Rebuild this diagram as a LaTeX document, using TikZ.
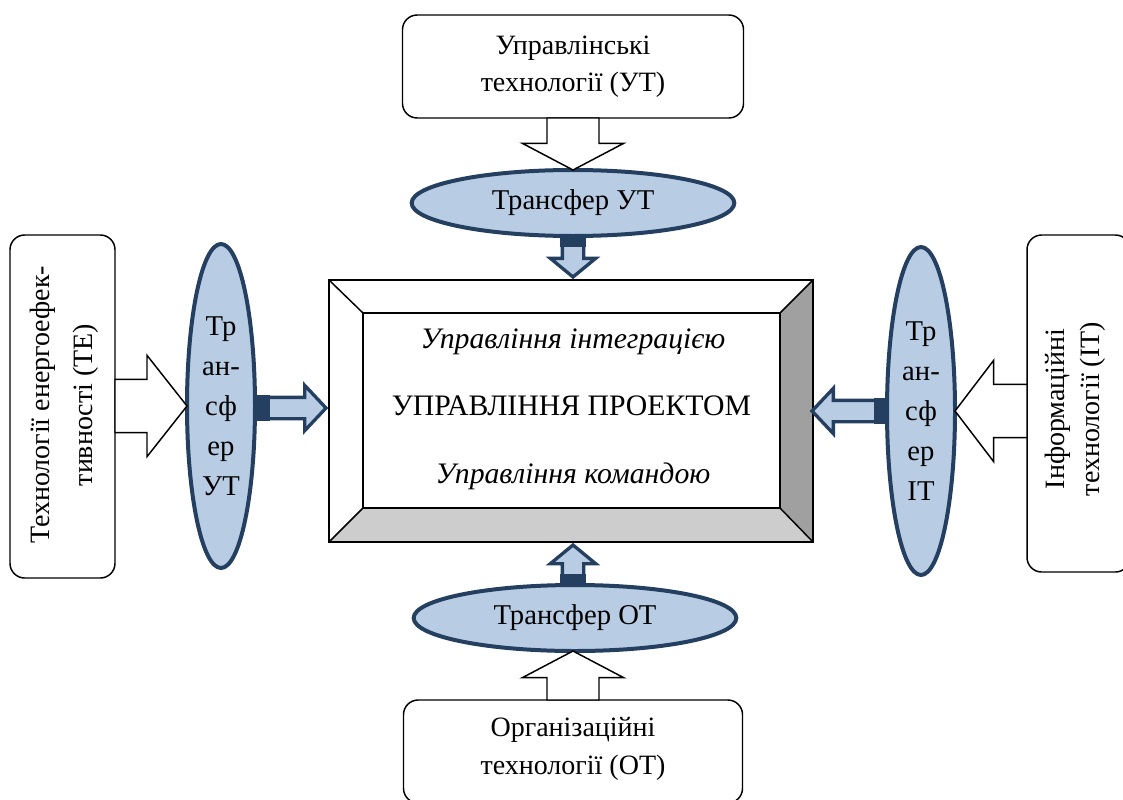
\documentclass[tikz,border=0pt]{standalone}
\usepackage{fontspec}
\setmainfont{Liberation Serif}
\usetikzlibrary{shapes.geometric,calc}
\definecolor{efill}{HTML}{B8CCE4}
\definecolor{edraw}{HTML}{243F60}
\definecolor{bevR}{HTML}{A0A0A0}
\definecolor{bevB}{HTML}{CDCDCD}
% block arrow: start, tip, shaft half width, head half width, head length, style
\newcommand\blkarrow[6]{%
  \coordinate (bah) at ($(#2)!#5!(#1)$);
  \draw[#6] ($(#1)!#3!90:(#2)$) -- ($(bah)!#3!90:(#2)$) -- ($(bah)!#4!90:(#2)$) -- (#2)
    -- ($(bah)!#4!-90:(#2)$) -- ($(bah)!#3!-90:(#2)$) -- ($(#1)!#3!-90:(#2)$) -- cycle;}
% dark tail: start, tip, half width, length, style
\newcommand\blktail[5]{%
  \coordinate (bat) at ($(#1)!#4!(#2)$);
  \fill[#5] ($(#1)!#3!90:(#2)$) -- ($(bat)!#3!90:(#2)$) -- ($(bat)!#3!-90:(#2)$) -- ($(#1)!#3!-90:(#2)$) -- cycle;}
\begin{document}
\begin{tikzpicture}[x=0.75pt,y=-0.75pt,
  font=\fontsize{21}{28}\selectfont,
  rbox/.style={draw=black, line width=1.1pt, rounded corners=11pt, inner sep=0pt, outer sep=0pt},
  tell/.style={ellipse, draw=edraw, line width=3pt, fill=efill, inner sep=0pt, outer sep=0pt, align=center, font=\fontsize{21.5}{30}\selectfont},
  whitearr/.style={draw=black, fill=white, line width=1.1pt},
  bluearr/.style={draw=edraw, fill=efill, line width=2.5pt},
  tailfill/.style={fill=edraw},
  lbl/.style={align=center, inner sep=0pt},
  mtxt/.style={anchor=base, inner sep=0pt, font=\fontsize{22.3}{28}\selectfont}]
\clip (0,0) rectangle (1123,799);
% outer technology boxes
\node[rbox, minimum width=255.75pt, minimum height=77.25pt] (ut) at (573,66.5) {};
\node[lbl] (utt) at (ut.center) {Управлінські\\технології (УТ)};
\node[rbox, minimum width=254.25pt, minimum height=77.25pt] (otb) at (573,751.5) {};
\node[lbl] (otbt) at (573,749) {Організаційні\\технології (ОТ)};
\node[rbox, minimum width=78.75pt, minimum height=257.25pt] (teb) at (62.5,406.5) {};
\node[lbl, rotate=90, font=\fontsize{21}{32}\selectfont] (tebt) at (64.5,405) {Технології енергоефек-\\тивності (ТЕ)};
\node[rbox, minimum width=77.25pt, minimum height=252.75pt] (itb) at (1078.5,403.5) {};
\node[lbl, rotate=90, font=\fontsize{21}{26}\selectfont] (itbt) at (1075.5,409) {Інформаційні\\технології (ІТ)};
% transfer ellipses
\node[tell, minimum width=242pt, minimum height=49.5pt] (tut) at (573,203) {Трансфер УТ};
\node[tell, minimum width=242pt, minimum height=49.5pt] (tot) at (575,618) {Трансфер ОТ};
\node[tell, minimum width=51pt, minimum height=243pt] (tte) at (221,406) {Тр\\ан-\\сф\\ер\\УТ};
\node[tell, minimum width=51pt, minimum height=246pt] (tit) at (921,411) {Тр\\ан-\\сф\\ер\\ІТ};
% main box
\node[minimum width=363pt, minimum height=196.5pt, inner sep=0pt, outer sep=0pt] (main) at (571,411) {};
\coordinate (iNW) at ($(main.north west)+(34,33)$);
\coordinate (iNE) at ($(main.north east)+(-33,33)$);
\coordinate (iSE) at ($(main.south east)+(-33,-34)$);
\coordinate (iSW) at ($(main.south west)+(34,-34)$);
\fill[bevR] (main.north east) -- (main.south east) -- (iSE) -- (iNE) -- cycle;
\fill[bevB] (main.south west) -- (main.south east) -- (iSE) -- (iSW) -- cycle;
\draw[line width=1.1pt] (main.north west) rectangle (main.south east);
\draw[line width=1.1pt] (main.north west) -- (iNW) (main.north east) -- (iNE)
  (main.south east) -- (iSE) (main.south west) -- (iSW);
\draw[line width=1.6pt] (iNW) rectangle (iSE);
\node[mtxt] (mi1) at (573,348) {\itshape Управління інтеграцією};
\node[mtxt] (mt) at (571.5,415) {УПРАВЛІННЯ ПРОЕКТОМ};
\node[mtxt] (mi2) at (573,483) {\itshape Управління командою};
% white arrows
\coordinate (wa1s) at (ut.south -| tut.north);
\blkarrow{wa1s}{tut.north}{19.5pt}{38pt}{20pt}{whitearr}
\coordinate (wa2s) at (otb.north);
\coordinate (wa2e) at ($(tot.south)+(-2,0)$);
\blkarrow{wa2s}{wa2e}{19.5pt}{38pt}{20pt}{whitearr}
\coordinate (wa3s) at (teb.east |- tte.west);
\blkarrow{wa3s}{tte.west}{20pt}{38pt}{30pt}{whitearr}
\coordinate (wa4s) at (itb.west |- tit.east);
\blkarrow{wa4s}{tit.east}{20pt}{38pt}{29pt}{whitearr}
% blue arrows
\coordinate (ba1e) at ($(tut.south |- main.north)+(0,-3)$);
\blkarrow{tut.south}{ba1e}{8pt}{17pt}{14pt}{bluearr}
\blktail{tut.south}{ba1e}{9.4pt}{8pt}{tailfill}
\coordinate (ba2s) at ($(tot.north)+(-2,0)$);
\coordinate (ba2e) at ($(ba2s |- main.south)+(0,3)$);
\blkarrow{ba2s}{ba2e}{8pt}{17pt}{14pt}{bluearr}
\blktail{ba2s}{ba2e}{9.4pt}{8pt}{tailfill}
\coordinate (ba3s) at ($(tte.east)+(0,2)$);
\coordinate (ba3e) at ($(ba3s -| main.west)+(-3,0)$);
\blkarrow{ba3s}{ba3e}{8pt}{17pt}{16pt}{bluearr}
\blktail{ba3s}{ba3e}{9.4pt}{11pt}{tailfill}
\coordinate (ba4s) at (tit.west);
\coordinate (ba4e) at ($(ba4s -| main.east)+(-1,0)$);
\blkarrow{ba4s}{ba4e}{8pt}{17pt}{16pt}{bluearr}
\blktail{ba4s}{ba4e}{9.4pt}{10pt}{tailfill}
\end{tikzpicture}
\end{document}
